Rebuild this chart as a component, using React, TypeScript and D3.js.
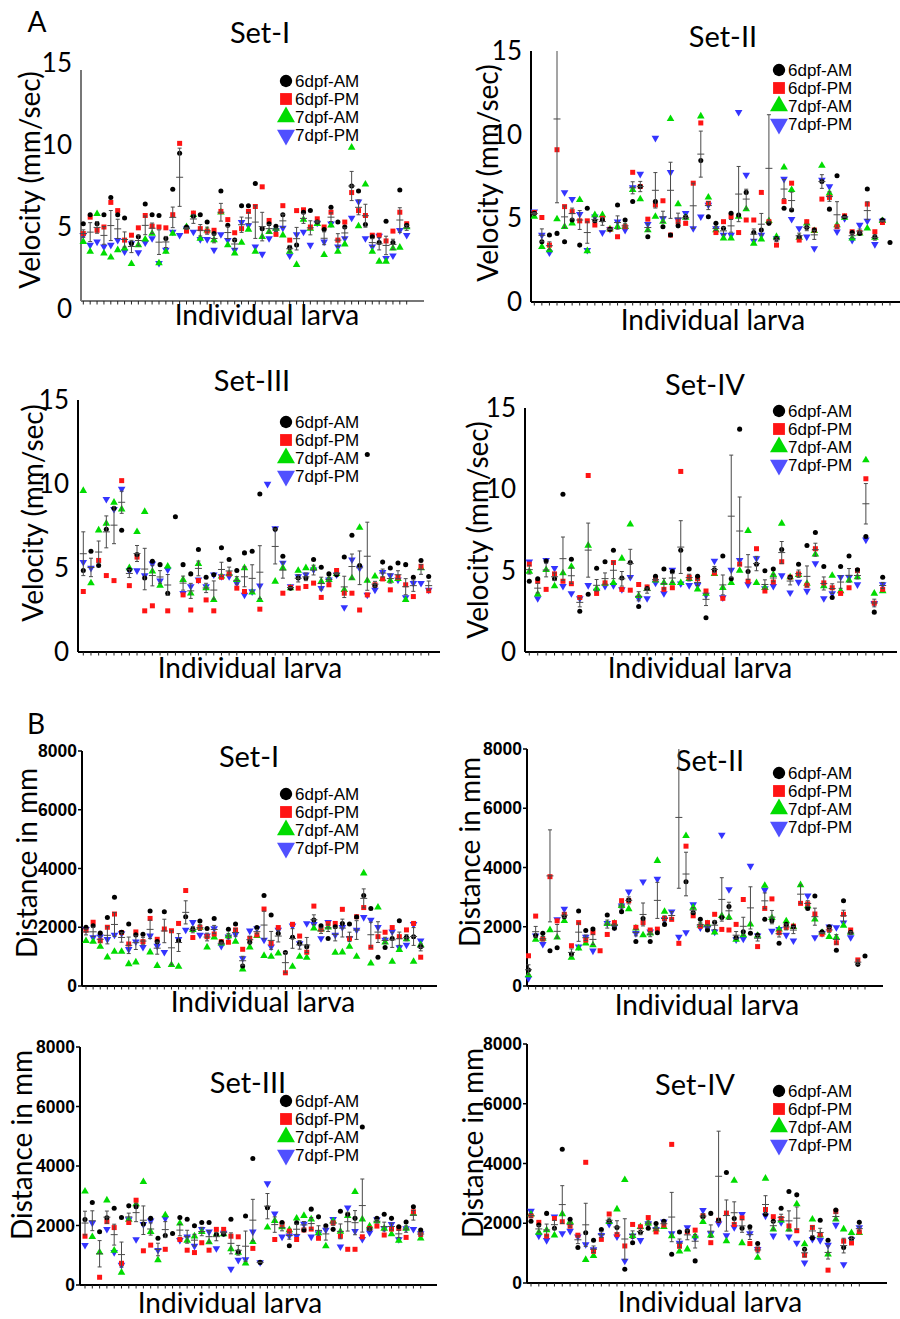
import React from 'react';
import * as d3 from 'd3';

// ---- data: velocity (mm/sec), one entry per larva ----
const velSet1Am6 = [5.2,5.75,5.2,5.75,6.8,5.75,5.55,4.0,4.4,6.4,5.75,5.7,4.3,7.3,9.5,5.0,5.65,5.75,5.3,4.6,7.2,5.1,4.2,6.3,6.3,7.65,4.9,5.2,5.05,5.75,3.75,3.9,5.9,6.0,5.3,4.85,6.2,5.3,5.0,7.5,7.2,5.15,4.4,4.05,5.35,4.05,7.25,5.1];
const velSet1Pm6 = [4.6,5.6,4.8,5.0,6.5,6.0,4.2,4.5,4.95,5.7,5.05,5.0,4.95,5.75,10.1,4.75,5.85,4.9,4.75,4.8,5.95,5.45,4.65,4.9,5.95,6.25,7.45,5.4,4.55,6.3,4.2,6.0,6.05,5.0,5.5,5.0,5.9,4.2,5.3,7.1,6.0,5.7,4.5,4.5,4.15,4.75,5.9,5.2];
const velSet1Am7 = [4.1,3.5,5.8,3.4,3.15,3.6,3.7,2.75,3.9,4.25,4.6,2.8,3.5,4.6,null,5.0,5.75,4.3,4.8,4.2,5.9,3.9,3.4,4.05,4.85,3.5,4.4,4.7,4.9,4.5,3.5,2.7,5.45,4.9,5.2,3.3,5.1,3.5,3.95,9.85,5.05,7.6,3.5,2.9,2.9,3.7,3.75,5.0];
const velSet1Pm7 = [4.5,3.9,4.1,3.8,3.9,4.2,3.5,4.0,3.45,4.05,4.3,2.8,3.6,4.7,4.5,4.9,4.7,4.25,4.25,3.6,4.55,4.2,3.6,5.3,5.1,3.8,3.35,4.3,4.8,4.95,3.25,4.55,4.7,3.9,5.25,4.1,5.2,3.8,4.3,5.55,6.55,4.3,3.8,4.45,3.1,3.25,4.8,4.5];

const velSet2Am6 = [5.3,3.6,4.0,4.1,3.6,4.9,3.4,5.6,4.85,4.9,4.35,5.8,4.9,6.0,6.9,3.9,6.0,4.5,4.0,4.55,5.1,null,8.45,5.1,4.7,4.4,5.3,5.2,6.55,4.15,4.3,4.7,3.8,5.6,5.5,3.9,4.45,4.3,7.2,5.55,7.55,5.1,4.15,4.1,6.75,3.9,4.9,3.55];
const velSet2Pm6 = [5.35,5.05,3.4,9.1,5.7,5.4,4.85,4.85,4.6,5.0,4.35,3.9,4.5,7.75,6.9,4.95,5.8,6.05,4.0,4.8,4.7,7.1,10.7,5.9,4.15,4.8,5.1,4.15,4.9,4.9,6.55,4.8,3.4,6.0,7.1,3.7,4.8,4.3,6.15,6.25,4.5,5.15,4.2,4.15,5.85,4.2,4.75,null];
const velSet2Am7 = [5.1,3.3,3.1,4.95,4.5,4.7,6.1,3.05,5.2,5.2,4.35,4.5,4.5,6.7,6.15,4.3,5.1,4.8,10.95,5.85,5.05,null,11.1,6.25,4.3,3.8,3.8,5.1,5.55,3.5,3.75,4.85,3.9,8.05,6.7,3.85,4.7,4.25,8.15,6.5,4.6,5.05,3.8,4.1,4.4,3.85,4.85,null];
const velSet2Pm7 = [5.4,4.0,2.95,25.6,6.55,6.15,5.25,3.1,5.1,4.15,4.35,4.8,4.3,6.85,7.65,4.65,9.8,5.0,7.75,4.9,5.3,4.4,5.1,5.8,4.4,4.0,4.0,11.35,7.6,3.65,4.0,17.6,3.8,7.35,4.95,4.4,3.9,3.2,7.3,6.9,4.2,5.0,3.7,4.6,4.85,3.45,4.85,null];

const velSet3Am6 = [4.85,6.0,5.15,7.3,8.55,7.25,4.9,5.8,4.4,5.4,5.2,3.5,8.05,5.2,4.65,6.1,4.45,4.6,6.2,5.5,4.85,5.9,6.0,9.4,null,7.3,5.7,3.8,4.4,4.4,5.5,5.05,4.65,4.6,5.65,6.95,5.15,11.75,3.95,5.35,5.0,5.3,5.2,4.45,5.45,4.5];
const velSet3Pm6 = [3.6,null,5.45,4.55,4.25,10.2,3.95,5.65,2.45,2.75,null,2.45,null,3.4,2.5,4.25,3.1,2.45,4.45,4.65,3.8,3.6,null,2.55,null,null,3.5,3.85,3.8,3.9,4.1,3.25,4.0,4.85,3.5,3.5,2.5,3.4,4.0,4.35,3.7,4.45,4.0,3.3,5.1,3.65];
const velSet3Am7 = [9.6,4.1,7.25,7.65,8.9,8.5,5.0,7.15,8.35,4.8,3.95,5.1,null,4.3,3.5,5.25,3.8,3.1,4.5,4.65,4.3,5.0,3.55,3.1,null,4.2,5.0,3.8,4.85,5.0,5.0,4.2,4.3,4.65,3.7,4.4,7.4,4.25,4.5,4.35,4.25,4.35,3.1,null,5.0,null];
const velSet3Pm7 = [5.35,5.0,null,9.1,8.5,9.7,4.85,4.85,4.55,5.25,4.25,4.9,null,3.5,3.9,4.3,3.9,4.6,4.5,4.5,4.1,3.4,3.6,3.95,10.0,7.35,5.3,3.9,4.5,4.6,4.9,3.8,4.3,4.6,2.65,5.5,5.0,3.4,3.7,4.75,4.55,4.3,3.25,4.1,4.1,3.7];

const velSet4Am6 = [4.35,4.5,5.6,4.5,9.7,5.7,2.5,3.55,5.15,5.55,6.25,4.55,5.5,2.8,3.9,4.65,5.1,4.95,6.25,5.1,4.65,2.1,5.05,5.9,4.5,13.7,4.95,5.4,5.0,5.1,6.3,4.6,5.4,6.55,7.35,5.25,3.35,5.25,5.9,5.05,7.1,2.45,4.6];
const velSet4Pm6 = [5.4,4.35,3.85,4.8,4.35,4.2,3.35,10.85,3.6,4.25,5.5,3.85,3.8,4.15,4.0,4.5,3.85,3.95,11.1,4.6,4.5,3.75,4.85,3.3,19.6,5.4,4.35,6.35,3.75,4.3,5.55,4.6,4.8,4.1,6.35,4.25,3.95,3.6,3.95,5.0,10.65,3.0,3.85];
const velSet4Am7 = [4.95,3.55,5.05,4.05,4.85,5.25,null,6.55,3.9,4.2,4.25,5.75,7.85,3.45,3.9,4.4,4.25,4.25,4.25,4.5,3.85,3.6,4.8,3.95,4.25,5.0,7.45,4.25,3.95,4.75,7.9,4.6,4.75,4.2,6.0,4.05,4.7,3.75,4.4,4.6,11.8,3.6,3.75];
const velSet4Pm7 = [5.55,3.3,5.65,5.15,4.05,3.6,3.3,4.1,3.75,4.05,4.1,3.85,4.6,3.3,3.3,4.25,3.6,5.05,4.2,4.1,4.1,3.5,5.6,3.35,5.05,5.65,4.15,5.75,3.9,4.05,4.7,3.65,4.3,3.75,5.45,3.3,3.6,4.6,4.6,4.15,6.9,3.0,4.15];

// ---- data: distance (mm), one entry per larva ----
const distSet1Am6 = [2000,2050,1800,2330,3020,1830,2110,1740,1760,2550,1510,2530,null,1540,2360,1940,2210,1960,2300,1500,1930,2110,680,1490,1990,3080,2420,1790,1140,1660,1450,1340,2250,2050,1620,2020,2130,2110,2350,3080,2640,980,1310,1620,2220,1660,1680,1340];
const distSet1Pm6 = [1900,2170,1540,2000,2450,1820,1430,1840,1510,2300,1590,1940,1880,2130,3250,1650,2000,1680,1770,1510,1490,1910,1250,1620,1740,2620,1450,1990,450,2100,1700,1150,2720,1930,2130,2130,2610,1620,2360,2670,1320,1680,1830,1990,1680,1910,2130,980];
const distSet1Am7 = [1540,1510,1340,980,1170,1170,750,810,null,1150,690,null,720,660,null,1910,1990,1320,1660,1450,1700,1510,570,1320,1710,1030,1000,1110,null,660,1000,965,1960,1930,2000,1140,1150,1340,1000,3840,770,2680,1490,830,1230,1600,830,1400];
const distSet1Pm7 = [1930,1650,1680,1590,1740,1790,1250,1510,1320,1710,1360,1150,null,1590,1910,2170,1740,1710,1960,1360,1680,1760,940,1880,1960,1570,1340,1910,null,2050,1450,2130,2100,1620,2170,1740,2000,1620,1910,2340,2250,2000,1570,1850,1310,1400,2100,1540];

const distSet2Am6 = [540,1700,1780,1190,1290,2340,1080,2530,1870,1920,null,2400,1950,2510,2900,1500,2280,1500,1800,2080,null,9800,3520,2470,2250,1890,2150,2310,2680,1640,1830,1780,1720,2250,2200,1440,2080,2000,null,2620,3040,1830,2000,1210,2880,1810,730,1010];
const distSet2Pm6 = [1020,2360,1590,3690,2200,2420,1360,2140,1550,1800,1190,1740,2140,2880,2880,1980,2140,1890,1920,2280,2250,1440,4720,2370,2020,2140,2420,1910,1890,2080,2920,null,1330,2620,2940,1800,1980,2020,2790,2770,2430,1750,1910,1460,2420,1890,880,null];
const distSet2Am7 = [370,1570,1600,1890,1640,2200,960,1270,1440,1380,null,2100,2110,2710,2600,1950,1720,1780,4230,2510,null,9860,5070,2650,2050,2100,1810,2370,2320,1570,1720,2080,1700,3390,2300,1910,2190,2000,3410,2700,2250,1800,1660,1640,2040,1800,null,null];
const distSet2Pm7 = [260,1700,1410,8100,2250,2600,null,1330,1660,1190,null,2120,2000,2710,3180,1780,3520,1830,3610,2250,2510,1660,1810,2750,1970,1950,1830,5100,3260,1570,1590,4050,1700,3240,1860,1920,1720,1530,null,3050,1640,1780,2000,1980,2140,1640,null,null];

const distSet3Am6 = [2200,2770,1790,2260,2580,2270,2660,2630,2050,2240,1570,1660,1730,2270,2210,1990,2100,2100,1700,1710,2210,1120,2320,4250,760,2600,null,2100,1320,2090,1850,2550,2290,1990,1870,2480,2380,2240,5310,1880,2240,2380,2240,1960,2120,2630,1850];
const distSet3Pm6 = [1640,null,260,2130,1930,730,2100,2850,1150,1340,null,1200,null,1530,1170,1090,1420,1170,1870,1870,1640,1620,null,1230,null,null,1530,2040,1810,1530,1850,1880,1570,null,2090,1640,1200,1200,1620,1900,1980,1680,1880,1900,1600,2460,1700];
const distSet3Am7 = [3150,1620,1100,2850,1160,420,2200,2720,3470,1790,840,2350,null,2070,1490,1640,1790,1440,1700,1710,1210,1090,730,1450,null,1940,2160,1950,1850,2240,2330,2210,1750,1310,2150,1800,2330,3130,2210,1980,2150,1900,1710,1490,1900,2400,1570];
const distSet3Pm7 = [1340,2090,null,1880,1100,670,2200,1530,2040,2160,1170,2240,null,1510,1620,1310,1880,1790,1230,1750,540,840,860,1790,760,3410,2400,1620,1660,1640,2050,1620,1730,1850,2210,1290,2600,1810,1540,1760,2200,1900,2040,1530,1900,1880,1730];

const distSet4Am6 = [2070,1940,2330,1830,4480,2130,1190,1680,1430,1790,2070,1860,460,1350,1700,1830,1990,2070,960,1710,1740,740,2220,2330,2100,3700,2160,1830,1880,1320,2300,2070,2500,3060,2950,1130,1510,2100,1430,2440,1190,1490,2030];
const distSet4Pm6 = [2250,2030,1570,2160,2050,1900,1600,4040,1060,1460,2310,1620,1240,1960,1880,2190,1710,1940,4640,1230,1710,1770,2250,1350,2100,2340,1960,2180,1320,1130,2460,2220,2160,1910,1750,930,1860,1620,430,2390,1400,1340,1710];
const distSet4Am7 = [2300,1690,1770,1600,2310,2050,null,780,910,null,2050,2470,3450,1580,1880,2000,1800,1880,1570,1060,1130,1570,2050,1600,8100,1400,3430,1340,null,850,3500,1800,2100,1800,2640,1300,2130,1600,960,2130,1800,1680,1680];
const distSet4Pm7 = [2410,1580,1430,2220,1660,1740,1550,1290,1120,1600,1970,1550,740,1580,1430,1990,1800,2050,1660,1340,1860,1510,2440,1660,1990,1590,1860,2300,1660,1130,2250,1580,2030,1550,1340,680,1470,1430,1270,1940,620,1460,1860];

const groupLabels = ['6dpf-AM', '6dpf-PM', '7dpf-AM', '7dpf-PM'];
const velTicks = [0, 5, 10, 15];
const distTicks = [0, 2000, 4000, 6000, 8000];

const COLORS = ['#000000', '#ff1414', '#00dc00', '#3434ff'];
const SHAPES = [d3.symbolCircle, d3.symbolSquare, d3.symbolTriangle, d3.symbolTriangle];
const FLIP = [false, false, false, true];

const velPanels = [
  { title: 'Set-I', series: [velSet1Am6, velSet1Pm6, velSet1Am7, velSet1Pm7],
    ax: 81, axEnd: 424, x0: 83.3, x1: 406.7, yZero: 309, yMax: 63, axTop: 70, axBot: 301, axisColor: '#777',
    titleX: 260, titleY: 43, legX: 286, legY: 81, ylabX: 30, ylabY: 180, xlabX: 267, xlabY: 325 },
  { title: 'Set-II', series: [velSet2Am6, velSet2Pm6, velSet2Am7, velSet2Pm7],
    ax: 531, axEnd: 900, x0: 534.3, x1: 890, yZero: 302, yMax: 51, axTop: 51, axBot: 302, axisColor: '#000',
    titleX: 723, titleY: 47, legX: 779, legY: 70, ylabX: 488, ylabY: 173, xlabX: 713, xlabY: 330 },
  { title: 'Set-III', series: [velSet3Am6, velSet3Pm6, velSet3Am7, velSet3Pm7],
    ax: 78, axEnd: 440, x0: 83.3, x1: 428.7, yZero: 652, yMax: 400, axTop: 400, axBot: 652, axisColor: '#000',
    titleX: 252, titleY: 391, legX: 286, legY: 422, ylabX: 33, ylabY: 513, xlabX: 250, xlabY: 678 },
  { title: 'Set-IV', series: [velSet4Am6, velSet4Pm6, velSet4Am7, velSet4Pm7],
    ax: 525, axEnd: 897, x0: 529.3, x1: 882.7, yZero: 652, yMax: 408, axTop: 408, axBot: 652, axisColor: '#000',
    titleX: 705, titleY: 395, legX: 779, legY: 411, ylabX: 478, ylabY: 530, xlabX: 700, xlabY: 678 },
];

const distPanels = [
  { title: 'Set-I', series: [distSet1Am6, distSet1Pm6, distSet1Am7, distSet1Pm7],
    ax: 82, axEnd: 437, x0: 86, x1: 420.7, yZero: 986, yMax: 751, axTop: 751, axBot: 986, axisColor: '#000',
    titleX: 249, titleY: 767, legX: 286, legY: 794, ylabX: 27, ylabY: 863, xlabX: 263, xlabY: 1012 },
  { title: 'Set-II', series: [distSet2Am6, distSet2Pm6, distSet2Am7, distSet2Pm7],
    ax: 527, axEnd: 883, x0: 528.5, x1: 865, yZero: 986, yMax: 749, axTop: 749, axBot: 986, axisColor: '#000',
    titleX: 710, titleY: 771, legX: 779, legY: 773, ylabX: 470, ylabY: 852, xlabX: 707, xlabY: 1015 },
  { title: 'Set-III', series: [distSet3Am6, distSet3Pm6, distSet3Am7, distSet3Pm7],
    ax: 80, axEnd: 437, x0: 85, x1: 420.7, yZero: 1285, yMax: 1047, axTop: 1047, axBot: 1285, axisColor: '#000',
    titleX: 248, titleY: 1093, legX: 286, legY: 1101, ylabX: 22, ylabY: 1145, xlabX: 230, xlabY: 1313 },
  { title: 'Set-IV', series: [distSet4Am6, distSet4Pm6, distSet4Am7, distSet4Pm7],
    ax: 527, axEnd: 887, x0: 531, x1: 859.3, yZero: 1283, yMax: 1044, axTop: 1044, axBot: 1283, axisColor: '#000',
    titleX: 695, titleY: 1095, legX: 779, legY: 1091, ylabX: 473, ylabY: 1143, xlabX: 710, xlabY: 1312 },
];

const LATO = 'Lato, "Open Sans", sans-serif';
const ARIAL = '"Liberation Sans", Arial, sans-serif';

const marker = (i: number, size: number) => d3.symbol().type(SHAPES[i]).size(size)() as string;

function Panel({ p, ticks, max, yLabel, bold }: any) {
  const n = d3.max(p.series, (s: any) => s.length) as number;
  const x = d3.scalePoint<number>().domain(d3.range(n)).range([p.x0, p.x1]);
  const y = d3.scaleLinear().domain([0, max]).range([p.yZero, p.yMax]);
  const clampY = (v: number) => y(Math.max(0, Math.min(max, v)));

  // mean ± SEM across the four sessions for each larva
  const stats = d3.range(n).map((i) => {
    const vals = p.series.map((s: any) => s[i]).filter((v: any) => v != null) as number[];
    const m = d3.mean(vals) as number;
    const sem = vals.length > 1 ? (d3.deviation(vals) as number) / Math.sqrt(vals.length) : 0;
    return { i, m, sem, k: vals.length };
  });

  return (
    <g>
      {/* axes */}
      <line x1={p.ax} x2={p.ax} y1={p.axTop} y2={p.axBot} stroke={p.axisColor} strokeWidth={2} />
      <line x1={p.ax} x2={p.axEnd} y1={p.axBot} y2={p.axBot} stroke={p.axisColor} strokeWidth={2} />
      {d3.range(n).map((i) => (
        <line key={'xt' + i} x1={x(i)} x2={x(i)} y1={p.axBot} y2={p.axBot + 3.5} stroke="#222" strokeWidth={1} />
      ))}
      {ticks.map((t: number) => (
        <g key={'yt' + t}>
          {bold && <line x1={p.ax - 4} x2={p.ax} y1={y(t)} y2={y(t)} stroke="#000" strokeWidth={1.5} />}
          <text x={p.ax - (bold ? 5 : 9)} y={y(t)} dy="0.35em" textAnchor="end"
            fontFamily={bold ? ARIAL : LATO} fontWeight={bold ? 700 : 400} fontSize={bold ? 17.5 : 26}>{t}</text>
        </g>
      ))}
      <text transform={`translate(${p.ylabX},${p.ylabY}) rotate(-90)`} textAnchor="middle" dy="0.35em"
        fontFamily={LATO} fontSize={28}>{yLabel}</text>
      <text x={p.xlabX} y={p.xlabY} textAnchor="middle" fontFamily={LATO} fontSize={28}>Individual larva</text>
      <text x={p.titleX} y={p.titleY} textAnchor="middle" fontFamily={LATO} fontSize={29}>{p.title}</text>

      {/* points, drawn 7dpf-PM first so black ends on top */}
      {[3, 2, 1, 0].map((g) => (
        <g key={'s' + g} fill={COLORS[g]}>
          {p.series[g].map((v: any, i: number) =>
            v == null || v > max ? null : (
              <path key={i} d={marker(g, g === 0 ? 20 : 25)}
                transform={`translate(${x(i)},${y(v)})${FLIP[g] ? ' rotate(180)' : ''}`} />
            ))}
        </g>
      ))}

      {/* error bars */}
      {stats.filter((s) => s.k > 1).map((s) => {
        const cx = x(s.i) as number;
        const top = clampY(s.m + s.sem);
        const bot = clampY(s.m - s.sem);
        return (
          <g key={'e' + s.i} stroke="#4a4a4a" strokeWidth={1}>
            <line x1={cx} x2={cx} y1={top} y2={bot} />
            {s.m + s.sem <= max && <line x1={cx - 2} x2={cx + 2} y1={top} y2={top} />}
            <line x1={cx - 2} x2={cx + 2} y1={bot} y2={bot} />
            {s.m <= max && <line x1={cx - 3.5} x2={cx + 3.5} y1={y(s.m)} y2={y(s.m)} />}
          </g>
        );
      })}

      {/* legend */}
      {groupLabels.map((lab, g) => (
        <g key={'l' + g} transform={`translate(0,${p.legY + g * 18})`}>
          <path d={marker(g, g === 0 ? 120 : 140)} fill={COLORS[g] === '#3434ff' ? '#5050ff' : COLORS[g]}
            transform={`translate(${p.legX},0)${FLIP[g] ? ' rotate(180)' : ''}`} />
          <text x={p.legX + 9} y={0} dy="0.36em" fontFamily={ARIAL} fontSize={17}>{lab}</text>
        </g>
      ))}
    </g>
  );
}

export default function App() {
  return (
    <svg width={900} height={1319} viewBox="0 0 900 1319"
      style={{ display: 'block', position: 'absolute', left: 0, top: 0, background: '#fff' }}>
      <rect width={900} height={1319} fill="#fff" />
      <text x={37} y={32} textAnchor="middle" fontFamily={LATO} fontSize={28}>A</text>
      <text x={36} y={734} textAnchor="middle" fontFamily={LATO} fontSize={28}>B</text>
      {velPanels.map((p) => (
        <Panel key={'v' + p.title} p={p} ticks={velTicks} max={15} yLabel="Velocity (mm/sec)" bold={false} />
      ))}
      {distPanels.map((p) => (
        <Panel key={'d' + p.title} p={p} ticks={distTicks} max={8000} yLabel="Distance in mm" bold={true} />
      ))}
    </svg>
  );
}
